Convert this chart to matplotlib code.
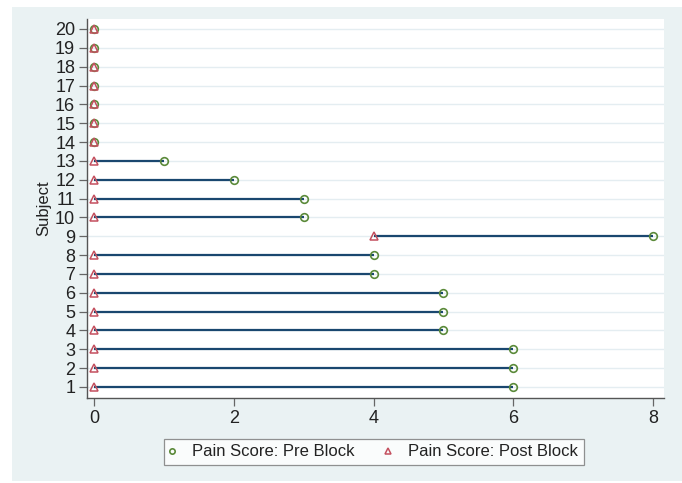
import numpy as np
import matplotlib.pyplot as plt
from matplotlib.patches import Rectangle

plt.rcParams['font.family'] = ['Liberation Sans', 'DejaVu Sans']

# pain scores per subject
subjects = list(range(1, 21))
pre_block = [6, 6, 6, 5, 5, 5, 4, 4, 8, 3, 3, 2, 1, 0, 0, 0, 0, 0, 0, 0]
post_block = [0, 0, 0, 0, 0, 0, 0, 0, 4, 0, 0, 0, 0, 0, 0, 0, 0, 0, 0, 0]

navy = '#1a476f'
green = '#5b8a3a'
red = '#c4505f'
bg = '#eaf2f3'

fig = plt.figure(figsize=(6.82, 4.83), dpi=100)
fig.patch.set_facecolor('white')
# stata-like outer panel
fig.patches.append(Rectangle((12/682, 2/483), 670/682, 474/483,
                             transform=fig.transFigure, facecolor=bg,
                             edgecolor='none', zorder=-10))

ax = fig.add_axes([87/682, 1-398/483, 577/682, 379/483])
ax.set_facecolor('white')

for y in subjects:
    ax.axhline(y, color='#e4edf1', lw=1.0, zorder=0)

ax.hlines(subjects, post_block, pre_block, color=navy, lw=1.6, zorder=2)
ax.plot(pre_block, subjects, 'o', ms=5.5, mfc='none', mec=green, mew=1.2,
        ls='none', zorder=3, label='Pain Score: Pre Block')
ax.plot(post_block, subjects, '^', ms=6, mfc='none', mec=red, mew=1.1,
        ls='none', zorder=4, label='Pain Score: Post Block')

ax.set_xlim(-0.1, 8.157)
ax.set_ylim(0.416, 20.53)
ax.set_xticks([0, 2, 4, 6, 8])
ax.set_yticks(subjects)
ax.set_ylabel('Subject', fontsize=12, labelpad=3, color='#222222')

for s in ['top', 'right']:
    ax.spines[s].set_visible(False)
for s in ['left', 'bottom']:
    ax.spines[s].set_color('#555555')
    ax.spines[s].set_linewidth(1.0)
ax.tick_params(axis='both', direction='out', length=6, width=0.9,
               color='#666666', labelsize=13, labelcolor='#222222', pad=2.5)

leg = fig.legend(loc='center', bbox_to_anchor=(374/682, 1-452/483), ncol=2,
                 fontsize=12, frameon=True, fancybox=False, markerscale=0.7,
                 handlelength=0.2, handletextpad=1.1, columnspacing=1.9,
                 borderpad=0.35, labelcolor='#222222')
leg.get_frame().set_edgecolor('#777777')
leg.get_frame().set_linewidth(0.9)

fig.savefig('out.png', dpi=100, facecolor=fig.get_facecolor())
